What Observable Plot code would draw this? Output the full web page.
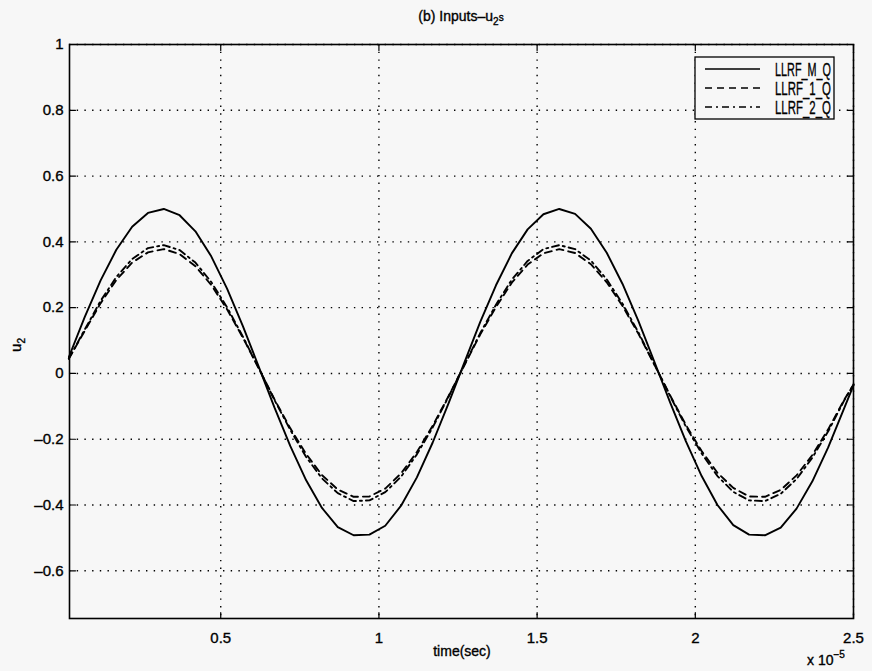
<!DOCTYPE html>
<html>
<head>
<meta charset="utf-8">
<script src="https://cdn.jsdelivr.net/npm/d3@7"></script>
<script src="https://cdn.jsdelivr.net/npm/@observablehq/plot@0.6"></script>
<style>
  html, body { margin: 0; padding: 0; background: #f7f7f7; }
  svg { display: block; }
  svg text { stroke: black; stroke-width: 0.35px; }
</style>
</head>
<body>
<div id="chart"></div>
<script>
// time (x 1e-5 sec)
const time = [0.02,0.07,0.12,0.17,0.22,0.27,0.32,0.37,0.42,0.47,
  0.52,0.57,0.62,0.67,0.72,0.77,0.82,0.87,0.92,0.97,
  1.02,1.07,1.12,1.17,1.22,1.27,1.32,1.37,1.42,1.47,
  1.52,1.57,1.62,1.67,1.72,1.77,1.82,1.87,1.92,1.97,
  2.02,2.07,2.12,2.17,2.22,2.27,2.32,2.37,2.42,2.47,2.5];
const llrfMQ = [0.050,0.171,0.282,0.376,0.446,0.488,0.500,0.481,0.432,0.356,
  0.258,0.144,0.021,-0.104,-0.221,-0.325,-0.409,-0.467,-0.492,-0.490,
  -0.463,-0.402,-0.316,-0.210,-0.091,0.033,0.156,0.268,0.365,0.438,
  0.484,0.500,0.485,0.440,0.367,0.272,0.160,0.037,-0.087,-0.206,
  -0.312,-0.400,-0.461,-0.490,-0.492,-0.469,-0.411,-0.328,-0.225,-0.107,-0.036];
const llrf1Q = [0.045,0.129,0.213,0.284,0.337,0.368,0.378,0.363,0.326,0.269,
  0.195,0.109,0.016,-0.079,-0.167,-0.245,-0.309,-0.353,-0.375,-0.374,
  -0.350,-0.304,-0.239,-0.159,-0.069,0.025,0.118,0.202,0.276,0.331,
  0.365,0.378,0.366,0.332,0.277,0.205,0.121,0.028,-0.066,-0.156,
  -0.236,-0.302,-0.348,-0.374,-0.375,-0.354,-0.310,-0.248,-0.170,-0.081,-0.034];
const llrf2Q = [0.045,0.133,0.220,0.293,0.348,0.381,0.390,0.375,0.337,0.278,
  0.201,0.112,0.016,-0.081,-0.172,-0.254,-0.319,-0.364,-0.388,-0.386,
  -0.361,-0.314,-0.246,-0.164,-0.071,0.026,0.122,0.209,0.285,0.342,
  0.378,0.390,0.378,0.343,0.286,0.212,0.125,0.029,-0.068,-0.161,
  -0.243,-0.312,-0.360,-0.386,-0.388,-0.366,-0.321,-0.256,-0.176,-0.083,-0.034];

const seriesNames = ["LLRF_M_Q", "LLRF_1_Q", "LLRF_2_Q"];
const seriesValues = [llrfMQ, llrf1Q, llrf2Q];
const seriesDash = [null, "7,5", "7,4,2,4"];

const xTicks = [0.5, 1, 1.5, 2, 2.5];
const yTicks = [-0.6, -0.4, -0.2, 0, 0.2, 0.4, 0.6, 0.8, 1];

const rows = seriesNames.map((name, i) =>
  time.map((t, j) => ({series: name, t, v: seriesValues[i][j]})));

const font = "'Liberation Sans', Arial, Helvetica, sans-serif";
const fmt = d => (d < 0 ? "\u2013" + Math.abs(d) : String(d));

const tickOpts = {length: 6, r: 0, stroke: "black", strokeWidth: 1.2, anchor: "start"};

const plot = Plot.plot({
  width: 872,
  height: 671,
  marginLeft: 69,
  marginRight: 19,
  marginTop: 44,
  marginBottom: 53,
  style: {background: "#f7f7f7", fontFamily: font, color: "black"},
  x: {domain: [0.022, 2.5]},
  y: {domain: [-0.745, 1]},
  marks: [
    Plot.gridX(xTicks, {stroke: "black", strokeOpacity: 1, strokeWidth: 1.4, strokeDasharray: "1.4,6.3"}),
    Plot.gridY(yTicks, {stroke: "black", strokeOpacity: 1, strokeWidth: 1.4, strokeDasharray: "1.4,6.3"}),
    Plot.axisX(xTicks, {anchor: "bottom", tickSize: 0, tickPadding: 14, fontSize: 15, tickFormat: fmt, label: null}),
    Plot.axisY(yTicks, {anchor: "left", tickSize: 0, tickPadding: 6, fontSize: 15, tickFormat: fmt, label: null}),
    Plot.vector(xTicks, {x: d => d, frameAnchor: "bottom", rotate: 0, ...tickOpts}),
    Plot.vector(xTicks, {x: d => d, frameAnchor: "top", rotate: 180, ...tickOpts}),
    Plot.vector(yTicks, {y: d => d, frameAnchor: "left", rotate: 90, ...tickOpts}),
    Plot.vector(yTicks, {y: d => d, frameAnchor: "right", rotate: -90, ...tickOpts}),
    ...rows.map((data, i) => Plot.line(data, {
      x: "t", y: "v", stroke: "black", strokeWidth: 1.9,
      strokeDasharray: seriesDash[i] ?? undefined
    })),
    Plot.frame({stroke: "black", strokeWidth: 1.6})
  ]
});

document.getElementById("chart").appendChild(plot);

// Text annotations and legend (title, axis labels, exponent)
const svg = d3.select(plot);
const addText = (x, y, parts, opts = {}) => {
  const t = svg.append("text")
    .attr("x", x).attr("y", y)
    .attr("text-anchor", opts.anchor || "middle")
    .attr("font-family", font)
    .attr("font-size", opts.size || 14)
    .attr("fill", "black");
  if (opts.rotate) t.attr("transform", `rotate(${opts.rotate},${x},${y})`);
  parts.forEach(p => {
    const s = t.append("tspan").text(p.text);
    if (p.shift) s.attr("dy", p.shift).attr("font-size", p.size || 10);
  });
  return t;
};
addText(461, 21, [{text: "(b) Inputs\u2013u"}, {text: "2", shift: 4}, {text: "s", shift: -4}], {size: 14});
addText(462, 656, [{text: "time(sec)"}], {size: 14});
addText(21, 345, [{text: "u"}, {text: "2", shift: 4}], {size: 15, rotate: -90});
addText(826, 665, [{text: "x 10"}, {text: "\u22125", shift: -7}], {size: 14});

// Legend
const lg = svg.append("g");
const lx = 695, ly = 57, lw = 139, lh = 62;
lg.append("rect").attr("x", lx).attr("y", ly).attr("width", lw).attr("height", lh)
  .attr("fill", "#f7f7f7").attr("stroke", "black").attr("stroke-width", 1.3);
seriesNames.forEach((name, i) => {
  const yy = ly + 12 + i * 19;
  lg.append("line").attr("x1", lx + 10).attr("x2", lx + 65).attr("y1", yy).attr("y2", yy)
    .attr("stroke", "black").attr("stroke-width", 1.7)
    .attr("stroke-dasharray", seriesDash[i] || null);
  lg.append("text").attr("x", lx + 80).attr("y", yy + 7)
    .attr("text-anchor", "start")
    .attr("textLength", 56).attr("lengthAdjust", "spacingAndGlyphs")
    .attr("font-family", font).attr("font-size", 19).attr("fill", "black").text(name);
});
</script>
</body>
</html>
